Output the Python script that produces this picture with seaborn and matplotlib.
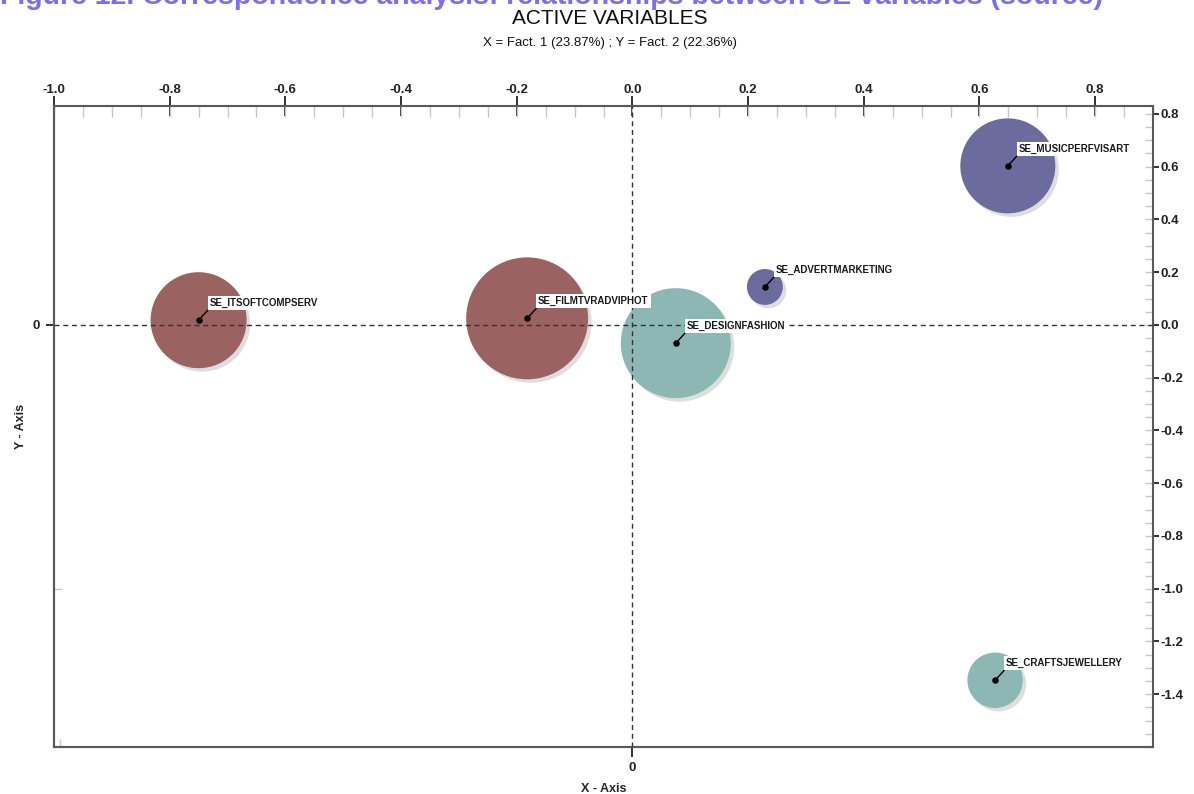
import numpy as np
import pandas as pd
import matplotlib
matplotlib.use("Agg")
import matplotlib.pyplot as plt
import matplotlib.patheffects as pe
from matplotlib.ticker import MultipleLocator, FixedLocator
import seaborn as sns

# Active variables: factor coordinates and relative weight (%)
labels = ["SE_ITSOFTCOMPSERV", "SE_FILMTVRADVIPHOT", "SE_DESIGNFASHION",
          "SE_ADVERTMARKETING", "SE_MUSICPERFVISART", "SE_CRAFTSJEWELLERY"]
fact1 = [-0.750, -0.182, 0.075, 0.229, 0.649, 0.627]
fact2 = [0.018, 0.025, -0.069, 0.144, 0.603, -1.347]
weight = [18.6, 30.0, 24.4, 2.6, 18.2, 6.2]
cluster = ["A", "A", "B", "C", "C", "B"]

x_ticks = [-1.0, -0.8, -0.6, -0.4, -0.2, 0.0, 0.2, 0.4, 0.6, 0.8]
y_ticks = [0.8, 0.6, 0.4, 0.2, 0.0, -0.2, -0.4, -0.6, -0.8, -1.0, -1.2, -1.4]

palette = {"A": "#9b6262", "B": "#8db7b4", "C": "#6b6b9d"}

df = pd.DataFrame({"x": fact1, "y": fact2, "label": labels,
                   "weight": weight, "cluster": cluster})

sns.set_style("white")
plt.rcParams["font.family"] = ["Liberation Sans", "DejaVu Sans"]

fig = plt.figure(figsize=(11.94, 7.94), dpi=100)
ax = fig.add_axes([54 / 1194, 47 / 794, 1099 / 1194, 641 / 794])

# bubbles: area proportional to weight
area_per_unit = 257.0
sns.scatterplot(data=df, x="x", y="y", hue="cluster", palette=palette,
                size="weight", sizes=(0, area_per_unit * 30.0), size_norm=(0, 30.0),
                linewidth=0, alpha=1.0, legend=False, ax=ax, zorder=2)
for coll in ax.collections:
    coll.set_path_effects([
        pe.SimplePatchShadow(offset=(2.5, -2.5), shadow_rgbFace="#c4c4c4", alpha=0.55),
        pe.Normal()])

# centre dots
sns.scatterplot(data=df, x="x", y="y", color="black", s=22, linewidth=0,
                legend=False, ax=ax, zorder=4)

# reference lines at the origin
ax.axhline(0, color="#333333", lw=1, ls=(0, (3.6, 2.7)), zorder=3)
ax.axvline(0, color="#333333", lw=1, ls=(0, (3.6, 2.7)), zorder=3)

# labels with leader lines
for xi, yi, lab in zip(df["x"], df["y"], df["label"]):
    ax.annotate(lab, xy=(xi, yi), xytext=(11, 17), textcoords="offset pixels",
                ha="left", va="center", fontsize=7, fontweight="bold", color="#1a1a1a",
                bbox=dict(boxstyle="square,pad=0.2", fc="white", ec="none"),
                arrowprops=dict(arrowstyle="-", color="black", lw=1,
                                shrinkA=0, shrinkB=0, relpos=(0, 0)),
                zorder=5)

ax.set_xlim(-1.0, 0.9)
ax.set_ylim(-1.6, 0.83)
ax.set_xlabel("")
ax.set_ylabel("")

for sp in ax.spines.values():
    sp.set_color("#5a5a5a")
    sp.set_linewidth(1.5)
    sp.set_visible(True)

# top axis
ax.xaxis.tick_top()
ax.set_xticks(x_ticks)
ax.set_xticklabels([f"{v:.1f}" for v in x_ticks])
ax.xaxis.set_minor_locator(MultipleLocator(0.05))
ax.xaxis.remove_overlapping_locs = False
ax.tick_params(axis="x", which="major", direction="inout", length=14, width=1.3,
               color="#222222", pad=0, labelsize=9.5, labelcolor="#222222")
ax.tick_params(axis="x", which="minor", direction="in", length=8, width=1,
               color="#c8c8c8", top=True, bottom=False)

# right axis
ax.yaxis.tick_right()
ax.set_yticks(y_ticks)
ax.set_yticklabels([f"{v:.1f}" for v in y_ticks])
ax.yaxis.set_minor_locator(MultipleLocator(0.05))
ax.yaxis.remove_overlapping_locs = False
ax.tick_params(axis="y", which="major", direction="out", length=4.5, width=1.3,
               color="#222222", pad=1, labelsize=9.5, labelcolor="#222222")
ax.tick_params(axis="y", which="minor", direction="in", length=6, width=1,
               color="#c8c8c8", right=True, left=False)
for lbl in ax.get_xticklabels() + ax.get_yticklabels():
    lbl.set_fontweight("bold")

# bottom and left axes carry only the origin
sx = ax.secondary_xaxis("bottom")
sx.set_xticks([0.0])
sx.set_xticklabels(["0"])
sx.xaxis.set_minor_locator(FixedLocator([-0.99]))
sx.tick_params(which="major", direction="out", length=7, width=1.3, color="#222222",
               labelsize=9.5, pad=4)
sx.tick_params(which="minor", direction="in", length=6, width=1, color="#c8c8c8")
sx.spines["bottom"].set_color("#5a5a5a")
sx.spines["bottom"].set_linewidth(1.5)
for lbl in sx.get_xticklabels():
    lbl.set_fontweight("bold")
sx.set_xlabel("X - Axis", fontsize=9, fontweight="bold", labelpad=6)

sy = ax.secondary_yaxis("left")
sy.set_yticks([0.0])
sy.set_yticklabels(["0"])
sy.yaxis.set_minor_locator(FixedLocator([-1.0]))
sy.tick_params(which="major", direction="out", length=6, width=1.3, color="#222222",
               labelsize=9.5, pad=4)
sy.tick_params(which="minor", direction="in", length=6, width=1, color="#c8c8c8")
sy.spines["left"].set_color("#5a5a5a")
sy.spines["left"].set_linewidth(1.5)
for lbl in sy.get_yticklabels():
    lbl.set_fontweight("bold")
sy.set_ylabel("Y - Axis", fontsize=9, fontweight="bold", labelpad=4)

# titles
fig.text(0.0, 1 - 4 / 794, "Figure 12. Correspondence analysis: relationships between SE variables (source)",
         ha="left", va="baseline", fontsize=20.5, fontweight="bold", color="#7a6ff0")
fig.text(610 / 1194, 1 - 18 / 794, "ACTIVE VARIABLES", ha="center", va="center",
         fontsize=15, color="#111111")
fig.text(610 / 1194, 1 - 43 / 794, "X = Fact. 1 (23.87%) ; Y = Fact. 2 (22.36%)",
         ha="center", va="center", fontsize=9.5, color="#111111")

fig.savefig("out.png", dpi=100)
